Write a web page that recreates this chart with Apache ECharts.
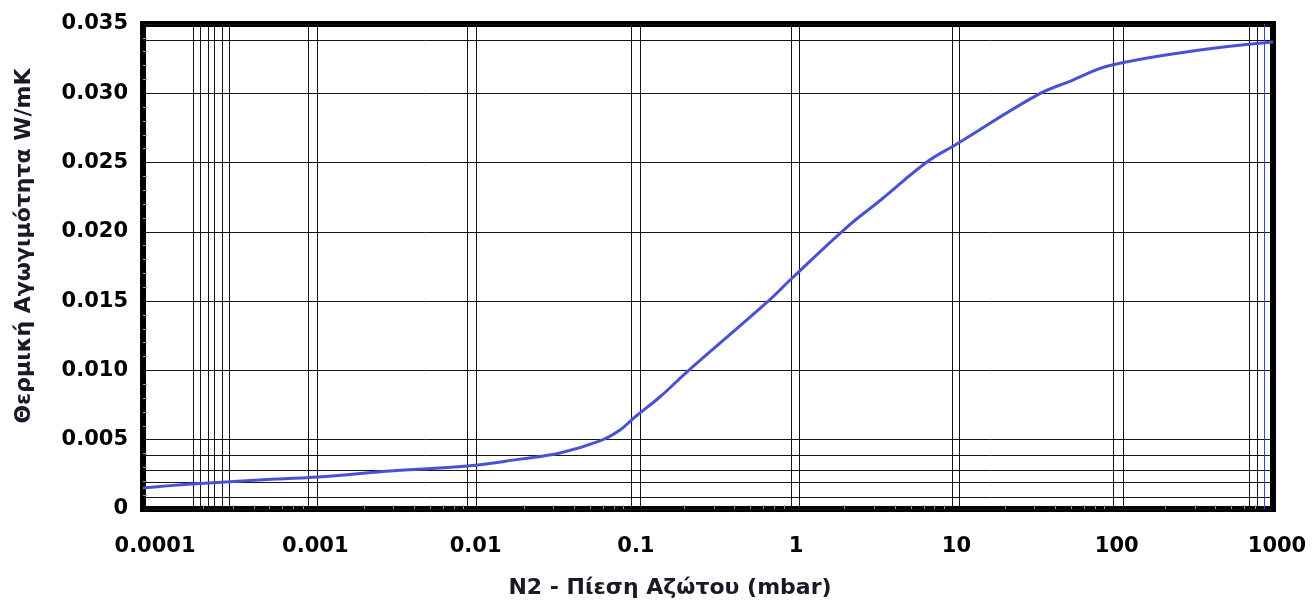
<!DOCTYPE html>
<html>
<head>
<meta charset="utf-8">
<script src="https://cdn.jsdelivr.net/npm/echarts@6/dist/echarts.min.js"></script>
<style>
html,body{margin:0;padding:0;background:#fff;}
#chart{width:1314px;height:605px;}
</style>
</head>
<body>
<div id="chart"></div>
<script>
// Pressure of N2 (mbar) and thermal conductivity (W/mK)
const pressure = [0.0000891, 0.00018, 0.0006, 0.0011, 0.0031, 0.0094, 0.02, 0.0356, 0.0632, 0.0843, 0.1045, 0.15, 0.221, 0.7, 1, 2.2, 3.57, 6.93, 10.4, 33.7, 55, 96, 341, 1000];
const conductivity = [0.00152, 0.0018, 0.00216, 0.00231, 0.00274, 0.0031, 0.0036, 0.00404, 0.00491, 0.0057, 0.00664, 0.0081, 0.0099, 0.01494, 0.01667, 0.02035, 0.0223, 0.02504, 0.02627, 0.02987, 0.0309, 0.0320, 0.0331, 0.0337];

// Extra grid lines as drawn in the original figure
const verticalGrid = [0.000183, 0.000202, 0.000227, 0.000247, 0.000278, 0.000307, 0.000957, 0.00109, 0.0094, 0.0107, 0.0995, 0.113, 0.98, 1.1, 9.93, 11.1, 100.5, 116, 711, 798];
const horizontalGrid = [0.00087, 0.00195, 0.00281, 0.0039, 0.03384];
const blueMarker = [883];

const xRange = [0.0000891, 1000];
const yRange = [0, 0.035];
const yStep = 0.005;

const xTitle = 'N2 - Πίεση Αζώτου (mbar)';
const yTitle = 'Θερμική Αγωγιμότητα W/mK';

const chart = echarts.init(document.getElementById('chart'), null, {renderer: 'canvas'});
const font = 'DejaVu Sans';
const data = pressure.map((p, i) => [p, conductivity[i]]);

const gridLineStyle = {color: '#151515', width: 1, type: 'solid'};
const markData = []
  .concat(verticalGrid.map(v => ({xAxis: v, lineStyle: gridLineStyle})))
  .concat(horizontalGrid.map(v => ({yAxis: v, lineStyle: gridLineStyle})))
  .concat(blueMarker.map(v => ({xAxis: v, lineStyle: {color: '#3a44e6', width: 1, type: 'solid'}})));

chart.setOption({
  animation: false,
  backgroundColor: '#fff',
  grid: {left: 143, right: 41, top: 24, bottom: 96, show: true, borderColor: '#000', borderWidth: 6, backgroundColor: 'transparent'},
  xAxis: {
    type: 'log',
    logBase: 10,
    min: xRange[0],
    max: xRange[1],
    axisLine: {show: false},
    axisTick: {show: false, inside: true},
    minorTick: {show: true, splitNumber: 8, length: 4, lineStyle: {color: '#999', width: 1}},
    splitLine: {show: false},
    axisLabel: {
      showMinLabel: false,
      margin: 27,
      padding: [0, 0, 0, 8],
      fontFamily: font, fontWeight: 'bold', fontSize: 21, color: '#000',
      formatter: v => String(+(+v).toPrecision(1))
    }
  },
  yAxis: {
    type: 'value',
    min: yRange[0],
    max: yRange[1],
    interval: yStep,
    axisLine: {show: false},
    axisTick: {show: false, inside: true},
    minorTick: {show: true, splitNumber: 5, length: 4, lineStyle: {color: '#999', width: 1}},
    splitLine: {show: true, lineStyle: {color: '#151515', width: 1}},
    axisLabel: {
      margin: 15,
      fontFamily: font, fontWeight: 'bold', fontSize: 21, color: '#000',
      formatter: v => v === 0 ? '0' : v.toFixed(3)
    }
  },
  graphic: [
    {type: 'text', x: 670, y: 588, style: {text: xTitle, fontFamily: font, fontWeight: 'bold', fontSize: 22, fill: '#1a1a26', textAlign: 'center', textVerticalAlign: 'middle'}},
    {type: 'text', x: 24, y: 246, rotation: Math.PI / 2, style: {text: yTitle, fontFamily: font, fontWeight: 'bold', fontSize: 22, fill: '#1a1a26', textAlign: 'center', textVerticalAlign: 'middle'}}
  ],
  series: [{
    type: 'line',
    data: data,
    showSymbol: false,
    smooth: 0.4,
    z: 3,
    lineStyle: {color: '#4a52d4', width: 3},
    markLine: {
      z: 1,
      silent: true,
      precision: 10,
      symbol: ['none', 'none'],
      label: {show: false},
      emphasis: {disabled: true},
      data: markData
    }
  }]
});
</script>
</body>
</html>
